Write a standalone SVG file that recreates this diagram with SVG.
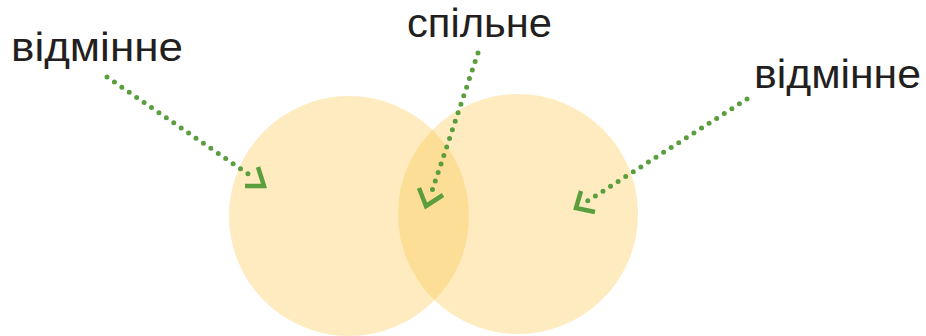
<svg xmlns="http://www.w3.org/2000/svg" width="926" height="336" viewBox="0 0 926 336">
<style>
.lbl{font-family:"Liberation Sans",Arial,sans-serif;font-size:40px;fill:#231f20}
.set{fill:#FCC64B;fill-opacity:0.35}
.dots{fill:none;stroke:#5A9E3E;stroke-width:5;stroke-linecap:round;stroke-dasharray:0 9}
.head{fill:none;stroke:#5A9E3E;stroke-width:4.5;stroke-linecap:butt;stroke-linejoin:miter}
</style>
<rect width="926" height="336" fill="#ffffff"/>
<g id="set-left"><circle class="set" cx="349" cy="216" r="120"/></g>
<g id="set-right"><circle class="set" cx="518" cy="214" r="120"/></g>
<g id="label-left"><text class="lbl" x="11" y="61" textLength="172" lengthAdjust="spacingAndGlyphs">відмінне</text></g>
<g id="label-middle"><text class="lbl" x="407" y="37" textLength="145" lengthAdjust="spacingAndGlyphs">спільне</text></g>
<g id="label-right"><text class="lbl" x="754" y="88" textLength="167" lengthAdjust="spacingAndGlyphs">відмінне</text></g>
<g id="connectors">
<path class="dots" d="M107,77 L254,178"/>
<path class="head" d="M258,167 L264,186 L245,186"/>
<path class="dots" d="M478,53 L431,194"/>
<path class="head" d="M419,188 L426,206 L443,195"/>
<path class="dots" d="M747,99 L586,202"/>
<path class="head" d="M581,191 L576,208 L595,212"/>
</g>
</svg>
